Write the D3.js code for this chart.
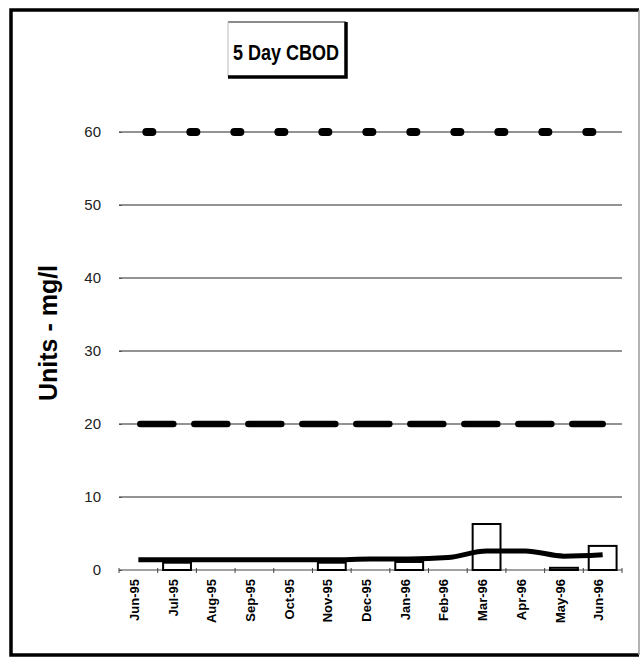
<!DOCTYPE html>
<html>
<head>
<meta charset="utf-8">
<script src="https://cdn.jsdelivr.net/npm/d3@7"></script>
<style>
  body { margin: 0; background: #fff; }
  svg { display: block; font-family: "Liberation Sans", Arial, sans-serif; }
</style>
</head>
<body>
<svg id="chart" width="642" height="664"></svg>
<script>
const months = ["Jun-95","Jul-95","Aug-95","Sep-95","Oct-95","Nov-95","Dec-95",
                "Jan-96","Feb-96","Mar-96","Apr-96","May-96","Jun-96"];
const cbod    = [0, 1.0, 0, 0, 0, 1.0, 0, 1.1, 0, 6.3, 0, 0.3, 3.3];   // monthly bars
const average = [1.4, 1.4, 1.4, 1.4, 1.4, 1.4, 1.5, 1.5, 1.7, 2.6, 2.6, 1.9, 2.1];
const weeklyLimit  = [60,60,60,60,60,60,60,60,60,60,60,60,60];
const monthlyLimit = [20,20,20,20,20,20,20,20,20,20,20,20,20];
const yTicks = [0, 10, 20, 30, 40, 50, 60];

const svg = d3.select("#chart");

// outer frame - heavy on three sides, faint on the right
svg.append("path")
    .attr("d", "M639,10H11V655H639")
    .attr("fill", "none").attr("stroke", "#000").attr("stroke-width", 3.5);
svg.append("line")
    .attr("x1", 639).attr("x2", 639).attr("y1", 10).attr("y2", 655)
    .attr("stroke", "#999").attr("stroke-width", 1.5);

const pLeft = 119, pRight = 622, pTop = 132, pBottom = 570;

const x = d3.scaleBand().domain(months).range([pLeft, pRight])
    .paddingInner(0.28).paddingOuter(0.14);
const y = d3.scaleLinear().domain([0, 60]).range([pBottom, pTop]);
const cx = d => x(d) + x.bandwidth() / 2;

// gridlines
svg.append("g")
  .selectAll("line")
  .data(yTicks.filter(d => d > 0))
  .join("line")
    .attr("x1", pLeft).attr("x2", pRight)
    .attr("y1", d => y(d)).attr("y2", d => y(d))
    .attr("stroke", "#6f6f6f").attr("stroke-width", 1.3);

// y axis (labels and small ticks only)
const yAxis = svg.append("g")
    .attr("transform", `translate(${pLeft + 3},0)`)
    .call(d3.axisLeft(y).tickValues(yTicks).tickSize(3).tickPadding(18));
yAxis.select(".domain").remove();
yAxis.selectAll("line").attr("stroke", "#555");
yAxis.selectAll("text")
    .attr("font-size", 15).attr("fill", "#222")
    .attr("font-family", "Liberation Sans, Arial, sans-serif");

// x axis line with ticks at category boundaries
const edges = d3.range(months.length + 1).map(i => pLeft + i * x.step());
svg.append("line")
    .attr("x1", pLeft).attr("x2", pRight).attr("y1", pBottom).attr("y2", pBottom)
    .attr("stroke", "#444").attr("stroke-width", 1.2);
svg.append("g").selectAll("line").data(edges).join("line")
    .attr("x1", d => d).attr("x2", d => d)
    .attr("y1", pBottom - 2).attr("y2", pBottom + 3)
    .attr("stroke", "#444");

svg.append("g").selectAll("text").data(months).join("text")
    .attr("transform", d => `translate(${cx(d) - 4},${pBottom + 9}) rotate(-90)`)
    .attr("text-anchor", "end")
    .attr("dy", "0.35em")
    .attr("font-size", 13).attr("font-weight", "bold")
    .text(d => d);

// bars
svg.append("g").selectAll("rect")
  .data(months.map((m, i) => ({m, v: cbod[i]})).filter(d => d.v > 0))
  .join("rect")
    .attr("x", d => x(d.m)).attr("width", x.bandwidth())
    .attr("y", d => y(d.v)).attr("height", d => y(0) - y(d.v))
    .attr("fill", "#fff").attr("stroke", "#000").attr("stroke-width", 2);

// limit lines
const flat = d3.line().x((d, i) => cx(months[i])).y(d => y(d));
svg.append("path").datum(weeklyLimit)
    .attr("d", flat).attr("fill", "none")
    .attr("stroke", "#000").attr("stroke-width", 8)
    .attr("stroke-linecap", "round")
    .attr("stroke-dasharray", "6,38").attr("stroke-dashoffset", -8);
svg.append("path").datum(monthlyLimit)
    .attr("d", flat).attr("fill", "none")
    .attr("stroke", "#000").attr("stroke-width", 6.5)
    .attr("stroke-linecap", "round")
    .attr("stroke-dasharray", "33,21").attr("stroke-dashoffset", -2);

// average line
const smooth = d3.line().x((d, i) => cx(months[i])).y(d => y(d)).curve(d3.curveMonotoneX);
svg.append("path").datum(average)
    .attr("d", smooth).attr("fill", "none")
    .attr("stroke", "#000").attr("stroke-width", 5);

// y axis title
svg.append("text")
    .attr("transform", "translate(57,333) rotate(-90)")
    .attr("text-anchor", "middle")
    .attr("font-size", 25).attr("font-weight", "bold")
    .text("Units - mg/l");

// title box
const tb = {x: 228, y: 22, w: 118, h: 55};
svg.append("line").attr("x1", tb.x).attr("x2", tb.x + tb.w).attr("y1", tb.y).attr("y2", tb.y)
    .attr("stroke", "#666").attr("stroke-width", 1.5);
svg.append("line").attr("x1", tb.x).attr("x2", tb.x).attr("y1", tb.y).attr("y2", tb.y + tb.h)
    .attr("stroke", "#bbb").attr("stroke-width", 1);
svg.append("path")
    .attr("d", `M${tb.x},${tb.y + tb.h}H${tb.x + tb.w}V${tb.y}`)
    .attr("fill", "none").attr("stroke", "#000").attr("stroke-width", 3.5);
svg.append("text")
    .attr("x", tb.x + tb.w / 2 - 1).attr("y", tb.y + 38)
    .attr("text-anchor", "middle")
    .attr("font-size", 18).attr("font-weight", "bold")
    .attr("transform", `translate(0,${-(tb.y + 38) * 0.25}) scale(1,1.25)`)
    .text("5 Day CBOD");
</script>
</body>
</html>
